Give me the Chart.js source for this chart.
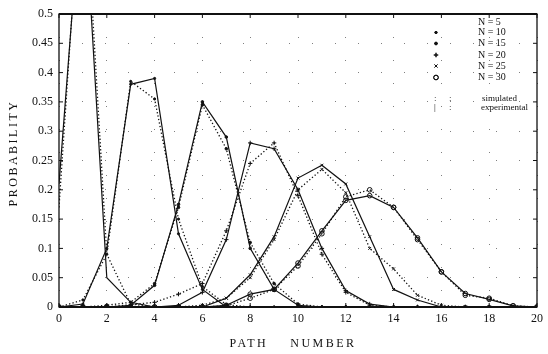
<!DOCTYPE html>
<html>
<head>
<meta charset="utf-8">
<script src="https://cdn.jsdelivr.net/npm/chart.js@4.4.1/dist/chart.umd.min.js"></script>
<style>
  html, body { margin: 0; padding: 0; background: #fff; }
  #wrap { width: 548px; height: 354px; }
</style>
</head>
<body>
<div id="wrap"><canvas id="pathChart"></canvas></div>
<script>
/* path number distribution, simulated vs experimental, N = 5 ... 30 */

const pathNumbers = [0, 1, 2, 3, 4, 5, 6, 7, 8, 9, 10, 11, 12, 13, 14, 15, 16, 17, 18, 19, 20];

const sim5  = [0.17, 0.78, 0.09, 0.005, 0, 0, 0, 0, 0, 0, 0, 0, 0, 0, 0, 0, 0, 0, 0, 0, 0];
const exp5  = [0.21, 0.74, 0.05, 0.008, 0, 0, 0, 0, 0, 0, 0, 0, 0, 0, 0, 0, 0, 0, 0, 0, 0];
const sim10 = [0, 0.012, 0.09, 0.385, 0.355, 0.15, 0.035, 0.004, 0, 0, 0, 0, 0, 0, 0, 0, 0, 0, 0, 0, 0];
const exp10 = [0, 0.005, 0.1, 0.38, 0.39, 0.125, 0.03, 0, 0, 0, 0, 0, 0, 0, 0, 0, 0, 0, 0, 0, 0];
const sim15 = [0, 0, 0.003, 0.008, 0.04, 0.17, 0.345, 0.27, 0.11, 0.04, 0.005, 0, 0, 0, 0, 0, 0, 0, 0, 0, 0];
const exp15 = [0, 0, 0, 0.003, 0.037, 0.175, 0.35, 0.29, 0.1, 0.03, 0.003, 0, 0, 0, 0, 0, 0, 0, 0, 0, 0];
const sim20 = [0, 0, 0, 0.004, 0.008, 0.022, 0.04, 0.13, 0.245, 0.28, 0.19, 0.09, 0.025, 0.003, 0, 0, 0, 0, 0, 0, 0];
const exp20 = [0, 0, 0, 0, 0, 0.003, 0.025, 0.115, 0.28, 0.27, 0.2, 0.1, 0.028, 0.005, 0, 0, 0, 0, 0, 0, 0];
const sim25 = [0, 0, 0, 0, 0, 0, 0.003, 0.015, 0.05, 0.115, 0.2, 0.235, 0.195, 0.1, 0.065, 0.02, 0.003, 0, 0, 0, 0];
const exp25 = [0, 0, 0, 0, 0, 0, 0, 0.015, 0.055, 0.12, 0.22, 0.242, 0.21, 0.12, 0.03, 0.012, 0, 0, 0, 0, 0];
const sim30 = [0, 0, 0, 0, 0, 0, 0, 0.002, 0.015, 0.03, 0.07, 0.125, 0.188, 0.2, 0.17, 0.115, 0.06, 0.02, 0.015, 0.002, 0];
const exp30 = [0, 0, 0, 0, 0, 0, 0, 0.003, 0.022, 0.03, 0.075, 0.13, 0.182, 0.19, 0.17, 0.118, 0.06, 0.023, 0.013, 0.002, 0];

const seriesN      = [5, 10, 15, 20, 25, 30];
const simulated    = [sim5, sim10, sim15, sim20, sim25, sim30];
const experimental = [exp5, exp10, exp15, exp20, exp25, exp30];

// marker for each N (N = 5 has none)
const MARKERS = [
  { style: false,      radius: 0,   fill: false },
  { style: 'circle',   radius: 1.1, fill: true  },
  { style: 'circle',   radius: 1.3, fill: true  },
  { style: 'cross',    radius: 2.2, fill: false },
  { style: 'crossRot', radius: 2.0, fill: false },
  { style: 'circle',   radius: 2.3, fill: false }
];

const INK   = '#111';
const SERIF = "'Liberation Serif', 'DejaVu Serif', serif";

const toPoints = ys => ys.map((y, i) => ({ x: pathNumbers[i], y }));

function makeDataset(ys, i, dotted) {
  const m = MARKERS[i];
  return {
    label: `N = ${seriesN[i]} ${dotted ? 'simulated' : 'experimental'}`,
    data: toPoints(ys),
    borderColor: INK,
    borderWidth: dotted ? 1.3 : 1.2,
    borderDash: dotted ? [1.3, 2.2] : [],
    pointStyle: m.style,
    pointRadius: m.radius,
    pointBorderWidth: 1,
    pointBorderColor: INK,
    pointBackgroundColor: m.fill ? INK : 'rgba(0,0,0,0)',
    tension: 0,
    fill: false
  };
}

const datasets = [];
seriesN.forEach((n, i) => {
  datasets.push(makeDataset(simulated[i], i, true));
  datasets.push(makeDataset(experimental[i], i, false));
});

// ── Frame, inward ticks, axis titles and key ─────────────────────────────────
const framePlugin = {
  id: 'frame',
  afterDraw(chart) {
    const { ctx, chartArea: a, scales: { x, y } } = chart;
    ctx.save();
    ctx.strokeStyle = INK;
    ctx.setLineDash([]);

    // plot box
    ctx.lineWidth = 1.3;
    ctx.strokeRect(a.left, a.top, a.right - a.left, a.bottom - a.top);
    ctx.lineWidth = 2;
    ctx.beginPath();
    ctx.moveTo(a.left, a.top); ctx.lineTo(a.right, a.top);
    ctx.moveTo(a.left, a.bottom); ctx.lineTo(a.right, a.bottom);
    ctx.stroke();

    // inward tick marks
    ctx.lineWidth = 1;
    ctx.beginPath();
    y.ticks.forEach(t => {
      const py = y.getPixelForValue(t.value);
      ctx.moveTo(a.left, py);  ctx.lineTo(a.left + 4, py);
      ctx.moveTo(a.right, py); ctx.lineTo(a.right - 4, py);
    });
    x.ticks.forEach(t => {
      const px = x.getPixelForValue(t.value);
      ctx.moveTo(px, a.bottom); ctx.lineTo(px, a.bottom - 4);
      ctx.moveTo(px, a.top);    ctx.lineTo(px, a.top + 4);
    });
    ctx.stroke();

    // axis titles
    ctx.fillStyle = INK;
    ctx.font = `12px ${SERIF}`;
    ctx.letterSpacing = '2.5px';
    ctx.textAlign = 'center';
    ctx.textBaseline = 'middle';
    ctx.fillText('PATH    NUMBER', 293, 344);
    ctx.save();
    ctx.translate(14, 153);
    ctx.rotate(-Math.PI / 2);
    ctx.fillText('PROBABILITY', 0, 0);
    ctx.restore();
    ctx.letterSpacing = '0px';

    // key
    ctx.font = `10px ${SERIF}`;
    ctx.textAlign = 'left';
    const rowY = [22, 32.5, 43.5, 55, 66, 77.5];
    seriesN.forEach((n, i) => {
      ctx.fillText(`N = ${n}`, 478, rowY[i]);
      const m = MARKERS[i];
      if (m.style) {
        ctx.fillStyle = m.fill ? INK : 'rgba(0,0,0,0)';
        Chart.helpers.drawPoint(ctx, { pointStyle: m.style, radius: m.radius, borderWidth: 1 }, 436, rowY[i]);
        ctx.fill();
        ctx.stroke();
        ctx.fillStyle = INK;
      }
    });
    ctx.font = `9px ${SERIF}`;
    ctx.fillText(':', 434, 99);
    ctx.fillText(':', 449, 99);
    ctx.fillText('simulated', 482, 99);
    ctx.fillText('|', 434, 108);
    ctx.fillText(':', 449, 108);
    ctx.fillText('experimental', 481, 108);
    ctx.restore();
  }
};

new Chart(document.getElementById('pathChart'), {
  type: 'line',
  data: { datasets },
  options: {
    responsive: true, maintainAspectRatio: false, animation: false,
    layout: { padding: { top: 14, right: 6, left: 0, bottom: 0 } },
    plugins: { legend: { display: false }, tooltip: { enabled: false } },
    scales: {
      x: {
        type: 'linear', min: 0, max: 20,
        afterFit: s => { s.height = 47; },
        grid: { color: 'rgba(0,0,0,0.5)', lineWidth: 1, drawTicks: false },
        border: { display: false, dash: [1, 22] },
        ticks: { stepSize: 2, padding: 5, color: INK, font: { family: SERIF, size: 12 }, maxRotation: 0 }
      },
      y: {
        min: 0, max: 0.5,
        afterFit: s => { s.width = 59; },
        grid: { color: 'rgba(0,0,0,0.5)', lineWidth: 1, drawTicks: false },
        border: { display: false, dash: [1, 22] },
        ticks: {
          stepSize: 0.05, padding: 6, color: INK,
          font: { family: SERIF, size: 12 },
          callback: v => String(+v.toFixed(2))
        }
      }
    }
  },
  plugins: [framePlugin]
});
</script>
</body>
</html>
